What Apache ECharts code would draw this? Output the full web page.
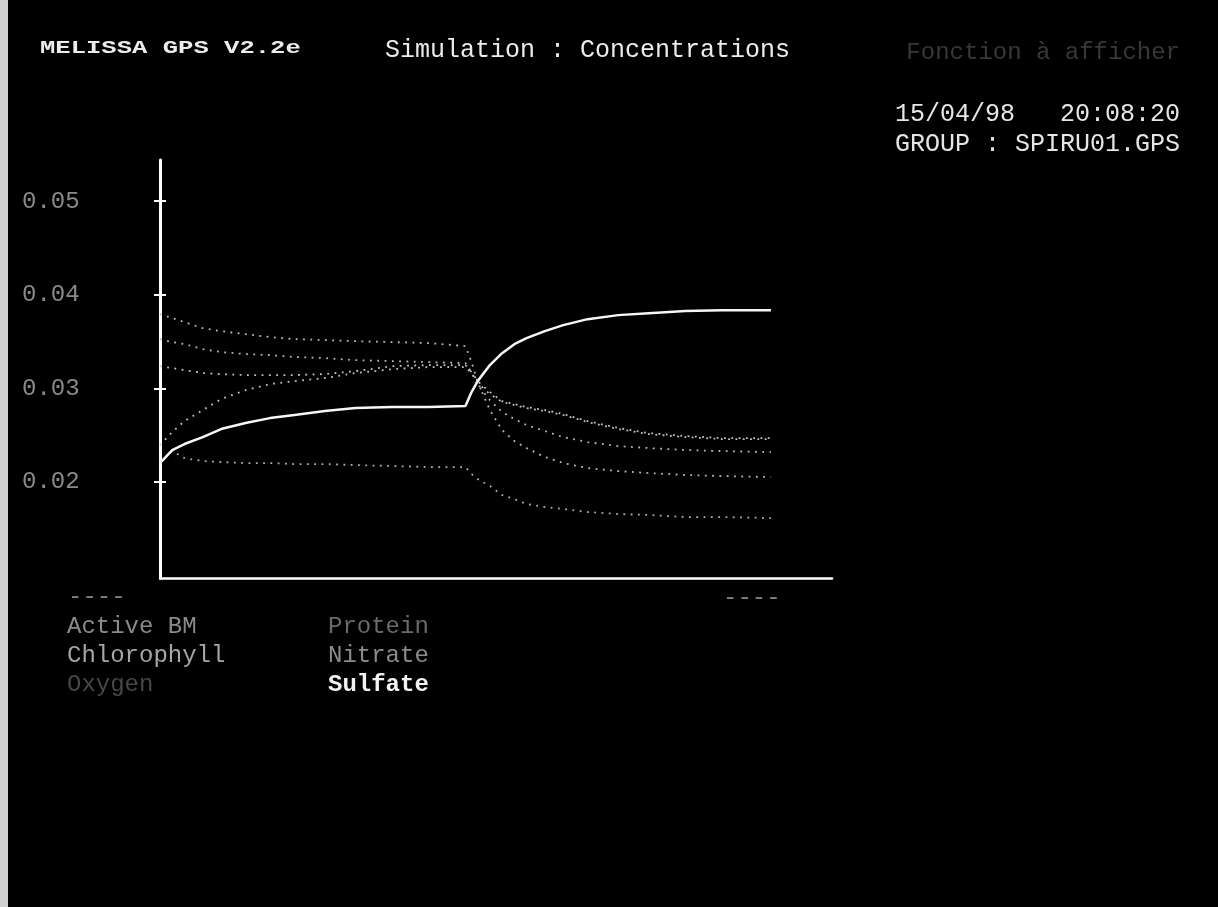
<!DOCTYPE html>
<html>
<head>
<meta charset="utf-8">
<title>MELISSA GPS V2.2e - Simulation : Concentrations</title>
<script src="https://cdn.jsdelivr.net/npm/echarts@6/dist/echarts.min.js"></script>
<style>
  html, body { margin: 0; padding: 0; background: #000; }
  #chart { width: 1218px; height: 907px; }
</style>
</head>
<body>
<div id="chart"></div>
<script>
// Simulated time (days); the feed change happens at day 50
const days = [0, 2, 4, 7, 10, 14, 18, 22, 27, 32, 38, 44, 50, 51, 52, 54, 56, 58, 60, 63, 66, 70, 75, 80, 86, 92, 100];

// Concentrations per compound
const activeBM = [0.03794, 0.03751, 0.03708, 0.03644, 0.03612, 0.03580, 0.03548, 0.03527, 0.03516, 0.03505, 0.03495, 0.03484, 0.03452,
  0.03281, 0.03068, 0.02769, 0.02555, 0.02438, 0.02363, 0.02267, 0.02203, 0.02149, 0.02117, 0.02096, 0.02075, 0.02064, 0.02053];
const chlorophyll = [0.03238, 0.03217, 0.03196, 0.03164, 0.03153, 0.03142, 0.03142, 0.03142, 0.03153, 0.03185, 0.03238, 0.03249, 0.03249,
  0.03174, 0.03078, 0.02961, 0.02865, 0.02833, 0.02801, 0.02769, 0.02726, 0.02651, 0.02577, 0.02523, 0.02491, 0.02470, 0.02470];
const oxygen = [0.02214, 0.02331, 0.02256, 0.02224, 0.02214, 0.02203, 0.02203, 0.02192, 0.02192, 0.02181, 0.02171, 0.02160, 0.02160,
  0.02085, 0.02032, 0.01957, 0.01861, 0.01819, 0.01765, 0.01733, 0.01712, 0.01680, 0.01658, 0.01648, 0.01626, 0.01626, 0.01616];
const protein = [0.03527, 0.03495, 0.03473, 0.03420, 0.03388, 0.03367, 0.03356, 0.03335, 0.03324, 0.03302, 0.03292, 0.03281, 0.03270,
  0.03174, 0.03036, 0.02875, 0.02747, 0.02673, 0.02609, 0.02544, 0.02480, 0.02427, 0.02384, 0.02363, 0.02342, 0.02331, 0.02320];
const nitrate = [0.02395, 0.02534, 0.02651, 0.02769, 0.02886, 0.02982, 0.03046, 0.03078, 0.03110, 0.03164, 0.03206, 0.03228, 0.03228,
  0.03164, 0.03057, 0.02939, 0.02854, 0.02822, 0.02790, 0.02758, 0.02715, 0.02641, 0.02566, 0.02512, 0.02480, 0.02459, 0.02459];
const sulfate = [0.02203, 0.02342, 0.02406, 0.02480, 0.02566, 0.02630, 0.02683, 0.02715, 0.02758, 0.02790, 0.02801, 0.02801, 0.02811,
  0.02961, 0.03078, 0.03249, 0.03377, 0.03473, 0.03537, 0.03612, 0.03676, 0.03740, 0.03783, 0.03804, 0.03826, 0.03836, 0.03836];

const seriesNames = ['Active BM', 'Chlorophyll', 'Oxygen', 'Protein', 'Nitrate', 'Sulfate'];
const seriesValues = [activeBM, chlorophyll, oxygen, protein, nitrate, sulfate];

// Y axis tick positions and their printed labels
const yTickValues = [0.02, 0.03, 0.04, 0.05];
const yTickLabels = ['0.02', '0.03', '0.04', '0.05'];

// Header texts
const programTitle = 'MELISSA GPS V2.2e';
const screenTitle = 'Simulation : Concentrations';
const menuHint = 'Fonction à afficher';
const dateLine = '15/04/98   20:08:20';
const groupLine = 'GROUP : SPIRU01.GPS';

const FONT = '"Liberation Mono", "DejaVu Sans Mono", monospace';

// Per-series look: the selected compound is drawn bright and solid, the others dotted
const lineColors = ['#bdbdbd', '#c4c4c4', '#b0b0b0', '#bababa', '#c2c2c2', '#f6f6f6'];
const legendColors = ['#8a8a8a', '#a6a6a6', '#474747', '#6a6a6a', '#8c8c8c', '#f2f2f2'];

const chart = echarts.init(document.getElementById('chart'), null, { renderer: 'canvas' });

const series = seriesNames.map((name, i) => {
  const selected = name === 'Sulfate';
  return {
    name,
    type: 'line',
    showSymbol: false,
    smooth: false,
    z: selected ? 5 : 3,
    data: days.map((d, k) => [d, seriesValues[i][k]]),
    lineStyle: selected
      ? { color: lineColors[i], width: 2.5, type: 'solid' }
      : { color: lineColors[i], width: 1.8, type: [1.8, 5.5] }
  };
});

// Legend block: two columns of three names under the plot
const legendTexts = seriesNames.map((name, i) => ({
  type: 'text',
  x: i < 3 ? 67 : 328,
  y: 627 + (i % 3) * 29,
  style: {
    text: name,
    fill: legendColors[i],
    font: (name === 'Sulfate' ? 'bold ' : '') + '24px ' + FONT,
    textAlign: 'left',
    textVerticalAlign: 'middle'
  }
}));

const axisLineStyle = { color: '#ffffff', width: 3 };

chart.setOption({
  backgroundColor: '#000000',
  animation: false,
  grid: { left: 160, right: 386, top: 160, bottom: 329, containLabel: false },
  xAxis: {
    type: 'value',
    min: 0,
    max: 110,
    axisLine: { show: true, onZero: false, lineStyle: { color: '#ffffff', width: 2.5 } },
    axisTick: { show: false },
    axisLabel: { show: false },
    splitLine: { show: false }
  },
  yAxis: [
    {
      type: 'value',
      min: 0.00975,
      max: 0.0544,
      position: 'left',
      axisLine: { show: true, onZero: false, lineStyle: axisLineStyle },
      axisTick: { show: true, length: 6, customValues: yTickValues, lineStyle: { color: '#ffffff', width: 2 } },
      axisLabel: {
        show: true,
        customValues: yTickValues,
        formatter: v => {
          const k = yTickValues.findIndex(t => Math.abs(t - v) < 1e-9);
          return k >= 0 ? yTickLabels[k] : '';
        },
        color: '#8a8a8a',
        fontFamily: FONT,
        fontSize: 24,
        align: 'left',
        margin: 138
      },
      splitLine: { show: false }
    },
    {
      // Inner half of the cross-shaped ticks
      type: 'value',
      min: 0.00975,
      max: 0.0544,
      position: 'left',
      axisLine: { show: false },
      axisTick: { show: true, inside: true, length: 6, customValues: yTickValues, lineStyle: { color: '#ffffff', width: 2 } },
      axisLabel: { show: false },
      splitLine: { show: false }
    }
  ],
  series,
  graphic: [
    { type: 'rect', shape: { x: 0, y: 0, width: 8, height: 907 }, style: { fill: '#cfcfcf' }, silent: true },
    {
      type: 'text', x: 40, y: 48, scaleX: 1.42, scaleY: 1,
      style: { text: programTitle, fill: '#ececec', font: 'bold 18px ' + FONT, textAlign: 'left', textVerticalAlign: 'middle' }
    },
    {
      type: 'text', x: 385, y: 50,
      style: { text: screenTitle, fill: '#ececec', font: '25px ' + FONT, textAlign: 'left', textVerticalAlign: 'middle' }
    },
    {
      type: 'text', x: 1180, y: 53,
      style: { text: menuHint, fill: '#383838', font: '24px ' + FONT, textAlign: 'right', textVerticalAlign: 'middle' }
    },
    {
      type: 'text', x: 1180, y: 114,
      style: { text: dateLine, fill: '#e6e6e6', font: '25px ' + FONT, textAlign: 'right', textVerticalAlign: 'middle' }
    },
    {
      type: 'text', x: 1180, y: 144,
      style: { text: groupLine, fill: '#e6e6e6', font: '25px ' + FONT, textAlign: 'right', textVerticalAlign: 'middle' }
    },
    {
      type: 'text', x: 68, y: 597,
      style: { text: '----', fill: '#808080', font: '24px ' + FONT, textAlign: 'left', textVerticalAlign: 'middle' }
    },
    {
      type: 'text', x: 723, y: 598,
      style: { text: '----', fill: '#808080', font: '24px ' + FONT, textAlign: 'left', textVerticalAlign: 'middle' }
    },
    ...legendTexts
  ]
});
</script>
</body>
</html>
